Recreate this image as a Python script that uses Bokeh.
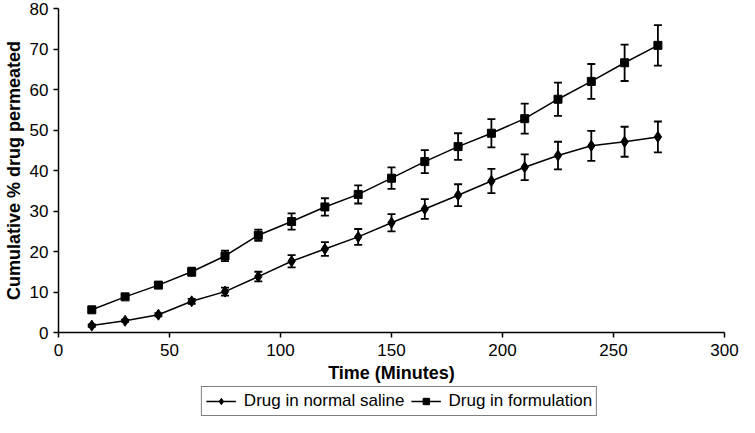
from bokeh.plotting import figure
from bokeh.layouts import column, row, Spacer
from bokeh.models import ColumnDataSource, Whisker, TeeHead, Legend, FixedTicker
from bokeh.embed import file_html
from bokeh.resources import INLINE

time_min = [15, 30, 45, 60, 75, 90, 105, 120, 135, 150, 165, 180, 195, 210, 225, 240, 255, 270]
saline = [1.7, 2.9, 4.4, 7.7, 10.1, 13.8, 17.6, 20.6, 23.6, 27.1, 30.5, 33.9, 37.4, 40.8, 43.7, 46.1, 47.1, 48.3]
saline_err = [0.3, 0.3, 0.4, 0.6, 1.0, 1.2, 1.5, 1.7, 1.95, 2.15, 2.45, 2.7, 3.0, 3.2, 3.4, 3.7, 3.7, 3.8]
formulation = [5.6, 8.8, 11.7, 15.0, 18.9, 24.0, 27.4, 31.0, 34.1, 38.1, 42.2, 45.9, 49.2, 52.8, 57.6, 62.0, 66.6, 70.9]
form_err = [0.4, 0.5, 0.7, 1.0, 1.3, 1.4, 2.0, 2.15, 2.25, 2.65, 2.85, 3.3, 3.5, 3.7, 4.1, 4.3, 4.5, 5.0]
series_labels = ["Drug in normal saline", "Drug in formulation"]
x_ticks = [0, 50, 100, 150, 200, 250, 300]
y_ticks = [0, 10, 20, 30, 40, 50, 60, 70, 80]

FONT = "Liberation Sans"
LEG_H = 32
LEG_SHIFT = 59

p = figure(width=739, height=417 - LEG_H, output_backend="svg", toolbar_location=None,
           x_range=(0, 300), y_range=(0, 80),
           min_border_left=0, min_border_top=8, min_border_right=15, min_border_bottom=0)
p.outline_line_color = None
p.xgrid.visible = False
p.ygrid.visible = False

src_s = ColumnDataSource(dict(x=time_min, y=saline,
                              lo=[v - e for v, e in zip(saline, saline_err)],
                              hi=[v + e for v, e in zip(saline, saline_err)]))
src_f = ColumnDataSource(dict(x=time_min, y=formulation,
                              lo=[v - e for v, e in zip(formulation, form_err)],
                              hi=[v + e for v, e in zip(formulation, form_err)]))

for src in (src_s, src_f):
    w = Whisker(base="x", lower="lo", upper="hi", source=src,
                line_color="black", line_width=1.8,
                upper_head=TeeHead(size=8, line_color="black", line_width=1.8),
                lower_head=TeeHead(size=8, line_color="black", line_width=1.8))
    p.add_layout(w)

p.line("x", "y", source=src_s, line_color="black", line_width=1.5)
p.scatter("x", "y", source=src_s, marker="diamond", size=11, fill_color="black", line_color="black")
p.line("x", "y", source=src_f, line_color="black", line_width=1.5)
p.scatter("x", "y", source=src_f, marker="square", size=8, fill_color="black", line_color="black")

for ax in (p.xaxis[0], p.yaxis[0]):
    ax.axis_line_color = "black"
    ax.axis_line_width = 1.5
    ax.major_tick_line_color = "black"
    ax.major_tick_line_width = 1.5
    ax.major_tick_out = 5
    ax.major_tick_in = 0
    ax.minor_tick_line_color = None
    ax.major_label_text_font = FONT
    ax.major_label_text_font_size = "17px"
    ax.major_label_text_color = "black"
    ax.axis_label_text_font = FONT
    ax.axis_label_text_font_size = "18px"
    ax.axis_label_text_font_style = "bold"
    ax.axis_label_text_color = "black"

p.xaxis[0].major_label_standoff = 6
p.xaxis[0].axis_label_standoff = 4
p.yaxis[0].major_label_standoff = 5
p.yaxis[0].axis_label_standoff = 3
p.xaxis[0].ticker = FixedTicker(ticks=x_ticks)
p.yaxis[0].ticker = FixedTicker(ticks=y_ticks)
p.xaxis[0].axis_label = "Time (Minutes)"
p.yaxis[0].axis_label = "Cumulative % drug permeated"

# legend strip below the chart (its ranges keep the series out of view; only the legend shows)
q = figure(width=739 - LEG_SHIFT, height=LEG_H, output_backend="svg", toolbar_location=None,
           x_range=(1000, 1001), y_range=(1000, 1001), min_border=0,
           x_axis_location=None, y_axis_location=None)
q.grid.visible = False
q.outline_line_color = None
ql1 = q.line("x", "y", source=src_s, line_color="black", line_width=1.5)
qm1 = q.scatter("x", "y", source=src_s, marker="diamond", size=11, fill_color="black", line_color="black")
ql2 = q.line("x", "y", source=src_f, line_color="black", line_width=1.5)
qm2 = q.scatter("x", "y", source=src_f, marker="square", size=8, fill_color="black", line_color="black")

legend = Legend(items=[(series_labels[0], [ql1, qm1]), (series_labels[1], [ql2, qm2])],
                orientation="horizontal", location="center",
                border_line_color="black", border_line_width=1.3,
                label_text_font=FONT, label_text_font_size="17px", label_text_color="black",
                glyph_width=30, glyph_height=16, label_standoff=8, spacing=6,
                padding=4, margin=0, label_height=16)
q.add_layout(legend, "center")

layout = column(p, row(Spacer(width=LEG_SHIFT, height=LEG_H), q, spacing=0), spacing=0)
open("out.html", "w").write(file_html(layout, INLINE))
